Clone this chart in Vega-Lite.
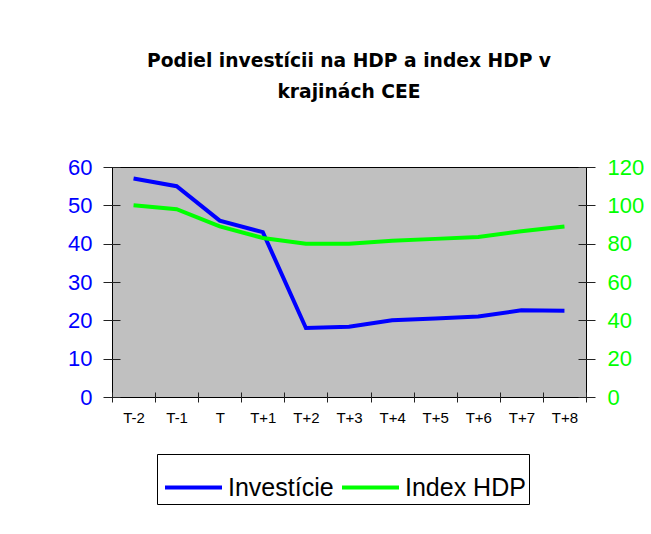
{
  "$schema": "https://vega.github.io/schema/vega-lite/v6.json",
  "autosize": "none",
  "width": 474,
  "height": 230,
  "padding": {"left": 112, "top": 167, "right": 65, "bottom": 137},
  "background": "white",
  "title": {
    "text": ["Podiel investícii na HDP a index HDP v", "krajinách CEE"],
    "font": "DejaVu Sans",
    "fontSize": 18.7,
    "fontWeight": "bold",
    "color": "black",
    "lineHeight": 31,
    "anchor": "middle",
    "offset": 54
  },
  "data": {
    "values": [
      {"t": "T-2", "inv": 57, "hdp": 100},
      {"t": "T-1", "inv": 55, "hdp": 98},
      {"t": "T", "inv": 46, "hdp": 89},
      {"t": "T+1", "inv": 43, "hdp": 83},
      {"t": "T+2", "inv": 18, "hdp": 80},
      {"t": "T+3", "inv": 18.3, "hdp": 80},
      {"t": "T+4", "inv": 20, "hdp": 81.5},
      {"t": "T+5", "inv": 20.5, "hdp": 82.5},
      {"t": "T+6", "inv": 21, "hdp": 83.5},
      {"t": "T+7", "inv": 22.6, "hdp": 86.5},
      {"t": "T+8", "inv": 22.5, "hdp": 89}
    ]
  },
  "encoding": {
    "x": {
      "field": "t",
      "type": "ordinal",
      "sort": ["T-2", "T-1", "T", "T+1", "T+2", "T+3", "T+4", "T+5", "T+6", "T+7", "T+8"],
      "bandPosition": 0.5,
      "scale": {"type": "band", "paddingInner": 0, "paddingOuter": 0},
      "axis": {
        "title": null,
        "labelAngle": 0,
        "labelFont": "Liberation Sans",
        "labelFontSize": 15,
        "labelColor": "black",
        "labelPadding": 8,
        "tickBand": "extent",
        "tickSize": 10,
        "tickColor": "#222",
        "offset": -5,
        "domain": false,
        "grid": false
      }
    }
  },
  "layer": [
    {
      "mark": {"type": "line", "strokeWidth": 4},
      "encoding": {
        "y": {
          "field": "inv",
          "type": "quantitative",
          "scale": {"domain": [0, 60], "nice": false},
          "axis": {
            "orient": "left",
            "title": null,
            "values": [0, 10, 20, 30, 40, 50, 60],
            "labelFont": "Liberation Sans",
            "labelFontSize": 22,
            "labelColor": "#0000FF",
            "labelPadding": 11,
            "tickSize": 17,
            "tickColor": "#222",
            "offset": -8,
            "domain": false,
            "grid": false
          }
        },
        "color": {
          "datum": "Investície",
          "type": "nominal",
          "scale": {"domain": ["Investície", "Index HDP"], "range": ["#0000FF", "#00FF00"]},
          "legend": {
            "title": null,
            "orient": "none",
            "legendX": 45,
            "legendY": 287,
            "direction": "horizontal",
            "gridAlign": "none",
            "fillColor": "white",
            "strokeColor": "black",
            "padding": 3,
            "cornerRadius": 0,
            "symbolType": "stroke",
            "symbolSize": 3249,
            "symbolStrokeWidth": 4,
            "symbolOffset": 3,
            "labelFont": "Liberation Sans",
            "labelFontSize": 25,
            "labelColor": "black",
            "labelOffset": 4,
            "columnPadding": 0,
            "labelLimit": 300
          }
        }
      }
    },
    {
      "mark": {"type": "line", "strokeWidth": 4},
      "encoding": {
        "y": {
          "field": "hdp",
          "type": "quantitative",
          "scale": {"domain": [0, 120], "nice": false},
          "axis": {
            "orient": "right",
            "title": null,
            "values": [0, 20, 40, 60, 80, 100, 120],
            "labelFont": "Liberation Sans",
            "labelFontSize": 22,
            "labelColor": "#00FF00",
            "labelPadding": 12,
            "tickSize": 17,
            "tickColor": "#222",
            "offset": -8,
            "domain": false,
            "grid": false
          }
        },
        "color": {"datum": "Index HDP", "type": "nominal"}
      }
    }
  ],
  "resolve": {"scale": {"y": "independent"}},
  "config": {
    "view": {"fill": "#C0C0C0", "stroke": "black", "strokeWidth": 1}
  }
}
